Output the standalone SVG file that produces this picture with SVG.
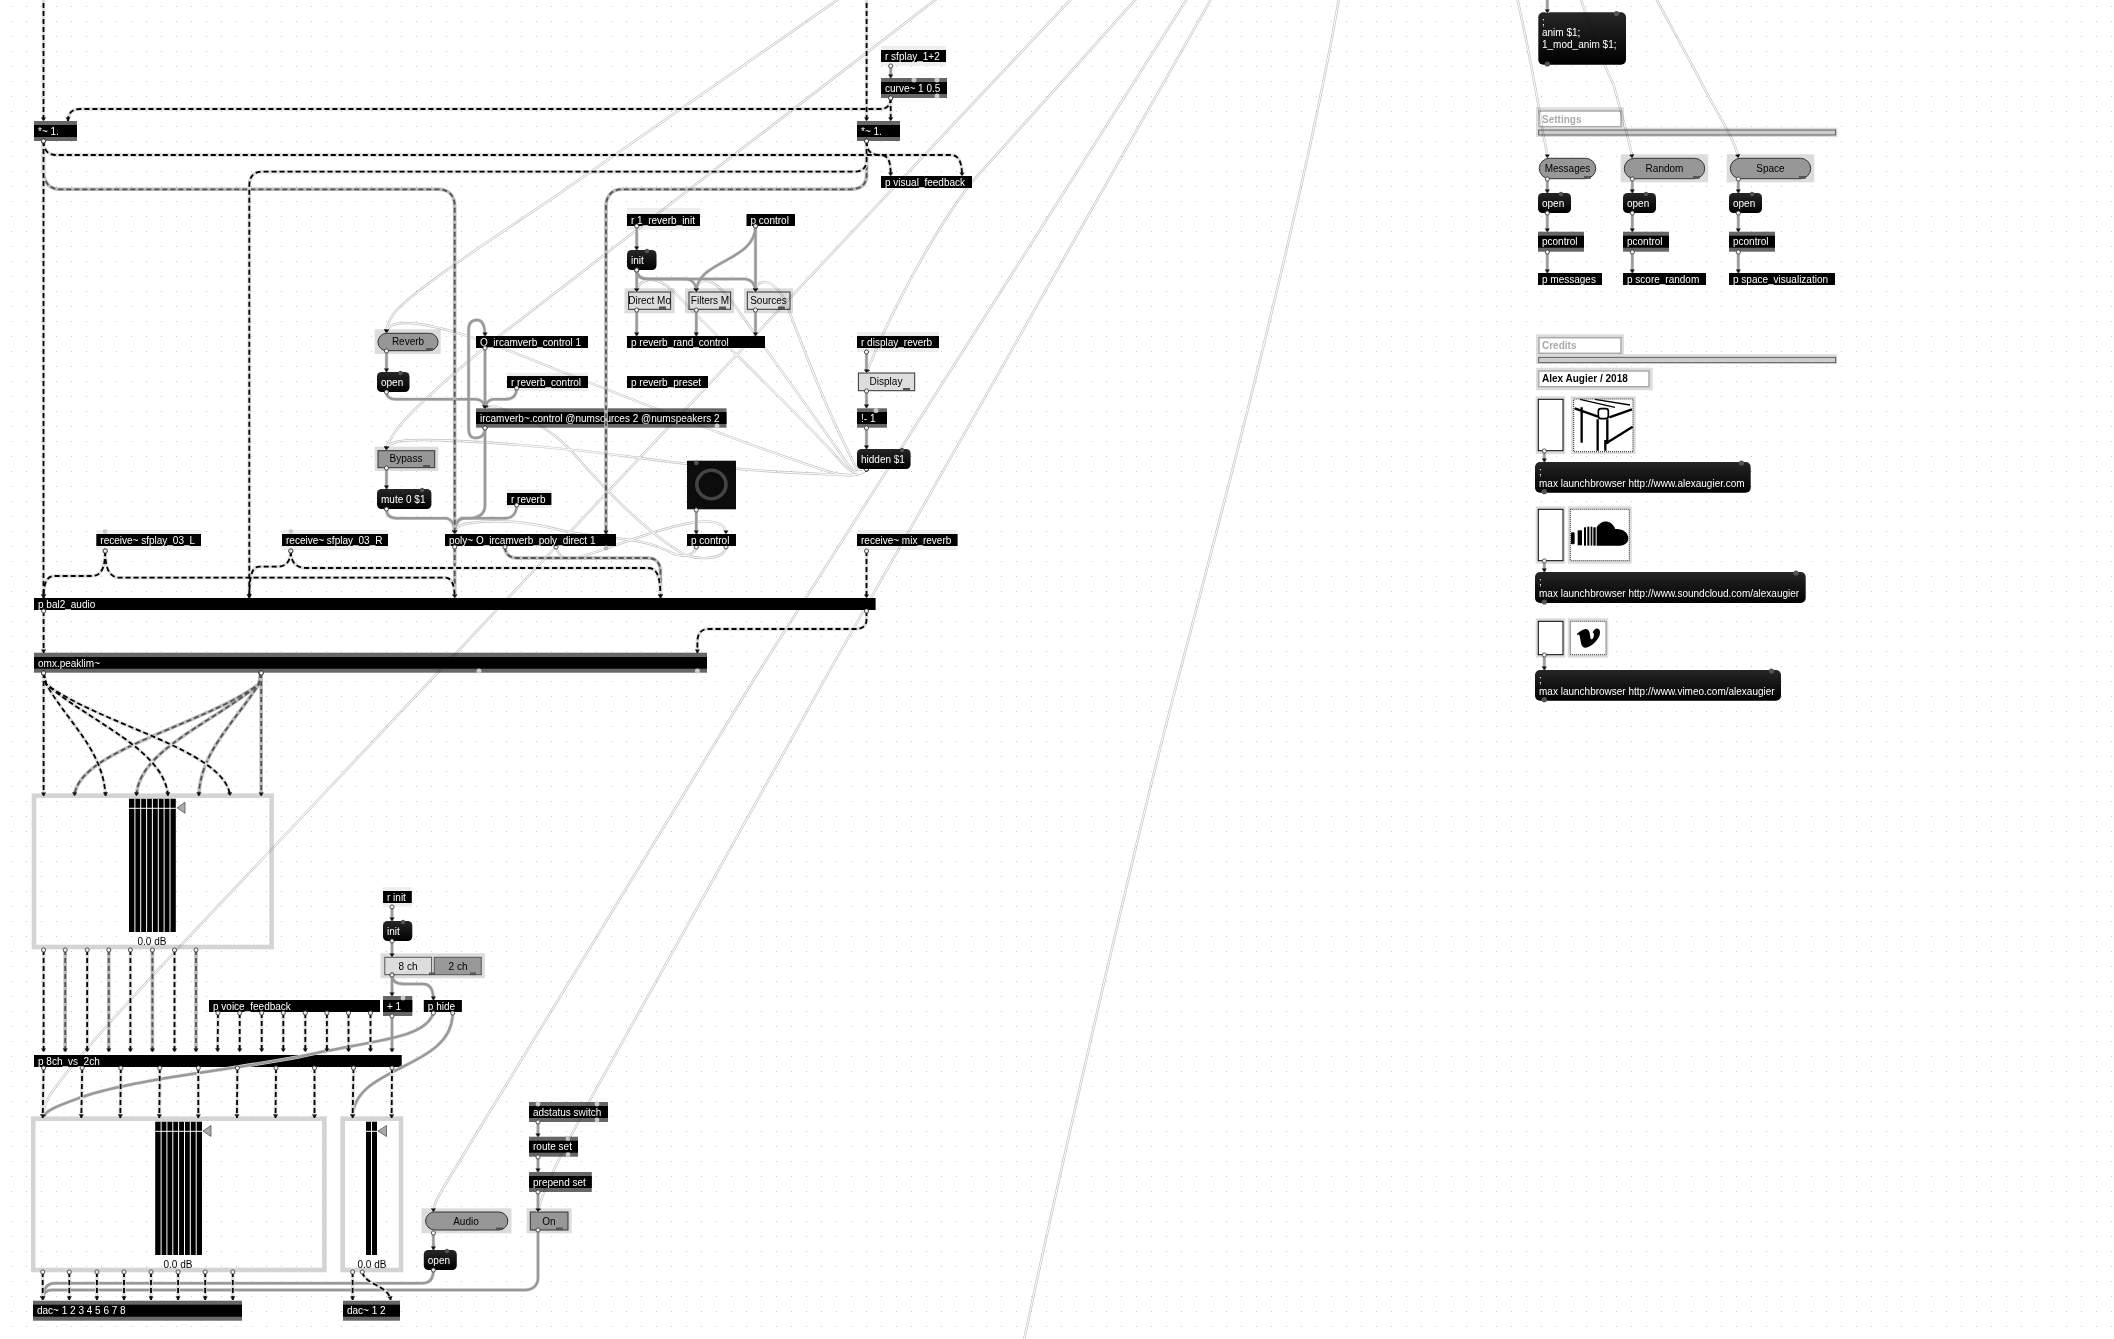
<svg xmlns="http://www.w3.org/2000/svg" width="2114" height="1339" viewBox="0 0 2114 1339">
<style>
text{font-family:"Liberation Sans",Arial,sans-serif;font-size:10px}
.w{fill:#fff}.b{fill:#000}.c{text-anchor:middle}.s{font-weight:bold}.h{fill:#aaa;font-weight:bold}
.k{fill:#000}.g{fill:#666}.l{fill:#eee}.m{fill:url(#mg)}
.o{fill:#dcdcdc}.d{fill:#979797;stroke:#333;stroke-width:1}.e{fill:#ddd;stroke:#333;stroke-width:1}
.f{fill:none;stroke:#d4d4d4;stroke-width:4.6}.pl{fill:#ccc}.pd{fill:#555}
.hf{fill:#fff;stroke:#aaa;stroke-width:1.5}
.t{fill:#fff;stroke:#000;stroke-width:1}
.dot{fill:none;stroke:#222;stroke-width:1;stroke-dasharray:1 1}
.wl{stroke:#fff;stroke-width:1;fill:none}
.tr{fill:#aaa;stroke:#555;stroke-width:.8}
#connectors path,#connectors use{fill:none}
.ms{marker-start:url(#ps);marker-end:url(#pa)}
.mult{mix-blend-mode:multiply}
</style>
<defs>
<pattern id="grid" x="11" y="6" width="15" height="15" patternUnits="userSpaceOnUse"><rect width="1" height="1" fill="#c8c8c8"/></pattern>
<linearGradient id="mg" x1="0" y1="0" x2="0" y2="1"><stop offset="0" stop-color="#262626"/><stop offset="1" stop-color="#000"/></linearGradient>
<marker id="pa" markerUnits="userSpaceOnUse" markerWidth="8" markerHeight="8" viewBox="-6 -4 8 8" refX="0" refY="0" orient="auto"><path d="M-3.6-2.6 0 0-3.6 2.6Z" fill="#111"/></marker>
<marker id="ps" markerUnits="userSpaceOnUse" markerWidth="8" markerHeight="8" viewBox="-4 -4 8 8" refX="0" refY="0"><circle r="2.1" fill="#eee" stroke="#333" stroke-width=".8"/></marker>
</defs>
<rect width="2114" height="1339" fill="#fff"/>
<rect width="2114" height="1339" fill="url(#grid)"/>

<g id="mul-l"><rect class="g" x="34" y="121" width="43" height="20"/><rect class="k" x="34" y="125" width="43" height="12"/><text class="w" x="38" y="134.5">*~ 1.</text></g>
<g id="mul-r"><rect class="g" x="857" y="121" width="43" height="20"/><rect class="k" x="857" y="125" width="43" height="12"/><text class="w" x="861" y="134.5">*~ 1.</text></g>
<g id="r-sfplay"><rect class="l" x="881" y="46" width="65" height="20"/><rect class="k" x="881" y="50" width="65" height="12"/><text class="w" x="885" y="59.5">r sfplay_1+2</text></g>
<g id="curve"><rect class="g" x="881" y="78" width="66" height="20"/><rect class="k" x="881" y="82" width="66" height="12"/><text class="w" x="885" y="91.5">curve~ 1 0.5</text><circle class="pl" cx="914" cy="80" r="2.5"/><circle class="pl" cx="937" cy="80" r="2.5"/><circle class="pl" cx="937" cy="96" r="2.5"/></g>
<g id="visual"><rect class="k" x="881" y="176" width="91" height="12"/><text class="w" x="885" y="185.5">p visual_feedback</text></g>
<g id="r-init-rev"><rect class="l" x="627" y="208" width="73" height="22"/><rect class="k" x="627" y="214" width="73" height="12"/><text class="w" x="631" y="223.5">r 1_reverb_init</text></g>
<g id="p-control-top"><rect class="k" x="746.5" y="214" width="48.5" height="12"/><text class="w" x="750.5" y="223.5">p control</text></g>
<g id="init-rev"><rect class="m" x="627" y="250" width="29.5" height="20" rx="4.5"/><text class="w" x="631" y="263.5">init</text><circle class="pd" cx="647" cy="251" r="2.2"/></g>
<g id="direct"><rect class="o" x="624.5" y="288.3" width="50.2" height="25"/><rect class="e" x="628.6" y="292" width="42" height="17.3"/><text class="b c" x="649.6" y="304">Direct Mo</text><rect class="pd" x="659" y="306.5" width="7" height="2.6"/></g>
<g id="filters"><rect class="o" x="685" y="288.3" width="49" height="25"/><rect class="e" x="689" y="292" width="41.6" height="17.3"/><text class="b c" x="710" y="304">Filters M</text><rect class="pd" x="719" y="306.5" width="7" height="2.6"/></g>
<g id="sources"><rect class="o" x="744" y="288.3" width="49" height="25"/><rect class="e" x="747.3" y="292" width="42.7" height="17.3"/><text class="b c" x="768.5" y="304">Sources</text><rect class="pd" x="778" y="306.5" width="7" height="2.6"/></g>
<g id="rand"><rect class="k" x="627" y="336" width="138" height="12"/><text class="w" x="631" y="345.5">p reverb_rand_control</text></g>
<g id="ctl1"><rect class="k" x="476" y="336" width="112" height="12"/><text class="w" x="480" y="345.5">O_ircamverb_control 1</text></g>
<g id="reverb"><rect class="o" x="374.7" y="329.3" width="66" height="24.7"/><rect class="d" x="378" y="333.3" width="60" height="17.4" rx="8.7"/><text class="b c" x="408" y="345">Reverb</text><rect class="pd" x="426" y="348" width="7" height="2.6"/></g>
<g id="open-rev"><rect class="m" x="377" y="372" width="32.5" height="20" rx="4.5"/><text class="w" x="381" y="385.5">open</text><circle class="pd" cx="400.5" cy="373" r="2.2"/></g>
<g id="r-rev-ctl"><rect class="l" x="507" y="372.7" width="81" height="18.5"/><rect class="k" x="507" y="376" width="81" height="12"/><text class="w" x="511" y="385.5">r reverb_control</text></g>
<g id="preset"><rect class="k" x="627" y="376" width="81" height="12"/><text class="w" x="631" y="385.5">p reverb_preset</text></g>
<g id="r-display"><rect class="l" x="857" y="332" width="82" height="20"/><rect class="k" x="857" y="336" width="82" height="12"/><text class="w" x="861" y="345.5">r display_reverb</text></g>
<g id="display"><rect class="e" x="858.4" y="373" width="56.3" height="17.7"/><text class="b c" x="886" y="385">Display</text><rect class="pd" x="903" y="388" width="7" height="2.6"/></g>
<g id="ircam"><rect class="g" x="476" y="408.3" width="250.5" height="19.4"/><rect class="k" x="476" y="412" width="250.5" height="12"/><text class="w" x="480" y="421.5">ircamverb~.control @numsources 2 @numspeakers 2</text><circle class="pl" cx="717" cy="426" r="2.5"/></g>
<g id="not1"><rect class="g" x="857" y="408.3" width="30" height="19.4"/><rect class="k" x="857" y="412" width="30" height="12"/><text class="w" x="861" y="421.5">!- 1</text><circle class="pl" cx="876" cy="410.5" r="2.5"/></g>
<g id="hidden"><rect class="m" x="857" y="449" width="53.6" height="20" rx="4.5"/><text class="w" x="861" y="462.5">hidden $1</text><circle class="pd" cx="902" cy="450" r="2.2"/></g>
<g id="bypass"><rect class="o" x="374.7" y="446.7" width="63.7" height="24.3"/><rect class="d" x="378" y="450.7" width="56.7" height="17"/><text class="b c" x="406" y="462">Bypass</text><rect class="pd" x="423" y="465" width="7" height="2.6"/></g>
<g id="mute"><rect class="m" x="377" y="489" width="54.4" height="20" rx="4.5"/><text class="w" x="381" y="502.5">mute 0 $1</text><circle class="pd" cx="422" cy="490" r="2.2"/></g>
<g id="r-reverb"><rect class="l" x="507" y="489.7" width="44.4" height="18.3"/><rect class="k" x="507" y="493" width="44.4" height="12"/><text class="w" x="511" y="502.5">r reverb</text></g>
<g id="toggle"><rect x="687" y="460.7" width="49" height="48.6" fill="#0c0c0c"/><ellipse cx="711.4" cy="484.5" rx="14.6" ry="14.2" fill="none" stroke="#444" stroke-width="3.6"/><circle class="pd" cx="696.3" cy="463" r="2.4"/></g>
<g id="poly"><rect class="k" x="445" y="534" width="171" height="12"/><text class="w" x="449" y="543.5">poly~ O_ircamverb_poly_direct 1</text><circle class="pl" cx="606" cy="548" r="2.4"/></g>
<g id="p-control"><rect class="k" x="687" y="534" width="49" height="12"/><text class="w" x="691" y="543.5">p control</text></g>
<g id="r-mix"><rect class="l" x="857" y="530" width="100.6" height="20"/><rect class="k" x="857" y="534" width="100.6" height="12"/><text class="w" x="861" y="543.5">receive~ mix_reverb</text></g>
<g id="r-sf-r"><rect class="l" x="282" y="530" width="106" height="20"/><rect class="k" x="282" y="534" width="106" height="12"/><text class="w" x="286" y="543.5">receive~ sfplay_03_R</text><circle class="pl" cx="291" cy="531.5" r="2.4"/></g>
<g id="r-sf-l"><rect class="l" x="96.3" y="530" width="104.7" height="20"/><rect class="k" x="96.3" y="534" width="104.7" height="12"/><text class="w" x="100.3" y="543.5">receive~ sfplay_03_L</text><circle class="pl" cx="105" cy="531.5" r="2.4"/></g>
<g id="bal2"><rect class="k" x="34" y="598" width="841.6" height="12"/><text class="w" x="38" y="607.5">p bal2_audio</text></g>
<g id="omx"><rect class="g" x="34" y="652.7" width="673" height="20"/><rect class="k" x="34" y="657" width="673" height="11.7"/><text class="w" x="38" y="666.5">omx.peaklim~</text><circle class="pl" cx="479" cy="671" r="2.5"/><circle class="pl" cx="697.4" cy="671" r="2.5"/></g>
<g id="gain8a"><rect class="f" x="34" y="795.7" width="237.6" height="151.3"/><rect class="k" x="129" y="798.7" width="46.8" height="133.3"/><path class="wl" d="M134.9 798.7V932M140.7 798.7V932M146.6 798.7V932M152.4 798.7V932M158.3 798.7V932M164.1 798.7V932M170 798.7V932M129 808.3H175.8"/><path class="tr" d="M177 807.8 185 802.3V813.3Z"/><text class="b c" x="152" y="945">0.0 dB</text></g>
<g id="r-init"><rect class="l" x="383" y="887" width="28.8" height="19.7"/><rect class="k" x="383" y="891" width="28.8" height="12"/><text class="w" x="387" y="900.5">r init</text></g>
<g id="init"><rect class="m" x="383" y="921" width="29.3" height="20" rx="4.5"/><text class="w" x="387" y="934.5">init</text><circle class="pd" cx="403" cy="922" r="2.2"/></g>
<g id="tab"><rect class="o" x="380.6" y="953.3" width="104.2" height="25"/><rect x="384.8" y="957.3" width="46.8" height="17.4" fill="#ddd" stroke="#555"/><rect x="434.3" y="957.3" width="46.9" height="17.4" fill="#999" stroke="#555"/><text class="b c" x="408" y="969.5">8 ch</text><text class="b c" x="458" y="969.5">2 ch</text><rect class="pd" x="429" y="972.5" width="6" height="2.6"/><rect class="pd" x="470" y="972.5" width="6" height="2.6"/></g>
<g id="voice"><rect class="k" x="209" y="1000" width="171" height="12"/><text class="w" x="213" y="1009.5">p voice_feedback</text></g>
<g id="plus1"><rect class="g" x="383" y="996" width="29.3" height="20"/><rect class="k" x="383" y="1000" width="29.3" height="12"/><text class="w" x="387" y="1009.5">+ 1</text><circle class="pl" cx="403" cy="998" r="2.4"/></g>
<g id="hide"><rect class="k" x="423.8" y="1000" width="38.1" height="12"/><text class="w" x="427.8" y="1009.5">p hide</text></g>
<g id="v8"><rect class="k" x="34" y="1055" width="367.7" height="12"/><text class="w" x="38" y="1064.5">p 8ch_vs_2ch</text></g>
<g id="gain8b"><rect class="f" x="33.2" y="1118.7" width="291.2" height="151.3"/><rect class="k" x="155.2" y="1121.7" width="46.8" height="133.3"/><path class="wl" d="M161.1 1121.7V1255M166.9 1121.7V1255M172.8 1121.7V1255M178.6 1121.7V1255M184.5 1121.7V1255M190.3 1121.7V1255M196.2 1121.7V1255M155.2 1131.3H202"/><path class="tr" d="M203 1131 211 1125.5V1136.5Z"/><text class="b c" x="178" y="1268">0.0 dB</text></g>
<g id="gain2"><rect class="f" x="342.7" y="1118.7" width="58.3" height="151.3"/><rect class="k" x="366" y="1121.7" width="11" height="133.3"/><path class="wl" d="M371.5 1121.7V1255M366 1131.3H377"/><path class="tr" d="M378 1131 386.5 1125.5V1136.5Z"/><text class="b c" x="372" y="1268">0.0 dB</text></g>
<g id="dac8"><rect class="g" x="33" y="1300.7" width="209" height="20"/><rect class="k" x="33" y="1304.7" width="209" height="12"/><text class="w" x="37" y="1314.2">dac~ 1 2 3 4 5 6 7 8</text></g>
<g id="dac2"><rect class="g" x="343" y="1300.7" width="57" height="20"/><rect class="k" x="343" y="1304.7" width="57" height="12"/><text class="w" x="347" y="1314.2">dac~ 1 2</text></g>
<g id="audio"><rect class="o" x="421.5" y="1208.3" width="90" height="25"/><rect class="d" x="425.6" y="1212" width="82.2" height="18" rx="9"/><text class="b c" x="466" y="1224.5">Audio</text><rect class="pd" x="496" y="1227.5" width="7" height="2.6"/></g>
<g id="open-audio"><rect class="m" x="423.8" y="1250" width="33" height="20" rx="4.5"/><text class="w" x="427.8" y="1263.5">open</text><circle class="pd" cx="447" cy="1251" r="2.2"/></g>
<g id="on"><rect class="o" x="526.6" y="1208.3" width="45" height="25"/><rect class="d" x="530.3" y="1212" width="37.7" height="18"/><text class="b c" x="549" y="1224.5">On</text><rect class="pd" x="556" y="1227.5" width="7" height="2.6"/></g>
<g id="adstatus"><rect class="g" x="529" y="1102" width="79" height="20"/><rect class="k" x="529" y="1106" width="79" height="12"/><text class="w" x="533" y="1115.5">adstatus switch</text><circle class="pl" cx="538" cy="1104" r="2.4"/><circle class="pl" cx="597" cy="1104" r="2.4"/><circle class="pl" cx="597" cy="1120" r="2.4"/></g>
<g id="route"><rect class="g" x="529" y="1136.7" width="49" height="20"/><rect class="k" x="529" y="1140.7" width="49" height="12"/><text class="w" x="533" y="1150.2">route set</text><circle class="pl" cx="568" cy="1138.7" r="2.4"/><circle class="pl" cx="568" cy="1154.7" r="2.4"/></g>
<g id="prepend"><rect class="g" x="529" y="1172" width="62.8" height="20"/><rect class="k" x="529" y="1176" width="62.8" height="12"/><text class="w" x="533" y="1185.5">prepend set</text></g>

<g id="anim"><rect class="m" x="1538.3" y="12.3" width="87.7" height="52.4" rx="5"/><text class="w" x="1542" y="25">;</text><text class="w" x="1542" y="36.3">anim $1;</text><text class="w" x="1542" y="47.6">1_mod_anim $1;</text><circle class="pd" cx="1616.5" cy="13.5" r="2.6"/><circle class="pd" cx="1547.3" cy="64" r="2.6"/></g>
<g id="settings"><rect class="o" x="1536" y="107.3" width="88" height="21"/><rect class="hf" x="1539" y="111" width="82" height="15.7"/><text class="h" x="1542" y="122.5">Settings</text></g>
<g id="panel1"><rect class="o" x="1536" y="127.7" width="301.3" height="9.3"/><rect x="1538.7" y="130" width="297" height="5" fill="#ccc" stroke="#444" stroke-width=".8"/></g>
<g id="messages-b"><rect class="d" x="1539.3" y="158.3" width="56.4" height="20.4" rx="10.2"/><text class="b c" x="1567.5" y="172">Messages</text><rect class="pd" x="1584" y="176" width="7" height="2.6"/></g>
<g id="random-b"><rect class="o" x="1620.7" y="154.3" width="87.6" height="28"/><rect class="d" x="1624.3" y="158.3" width="80.4" height="20.4" rx="10.2"/><text class="b c" x="1664.5" y="172">Random</text><rect class="pd" x="1693" y="176" width="7" height="2.6"/></g>
<g id="space-b"><rect class="o" x="1726.7" y="154.3" width="87.6" height="28"/><rect class="d" x="1730.3" y="158.3" width="80.4" height="20.4" rx="10.2"/><text class="b c" x="1770.5" y="172">Space</text><rect class="pd" x="1799" y="176" width="7" height="2.6"/></g>
<g id="open1"><rect class="m" x="1538" y="193" width="33" height="20" rx="4.5"/><text class="w" x="1542" y="206.5">open</text><circle class="pd" cx="1561" cy="194" r="2.2"/></g>
<g id="open2"><rect class="m" x="1623" y="193" width="33" height="20" rx="4.5"/><text class="w" x="1627" y="206.5">open</text><circle class="pd" cx="1646" cy="194" r="2.2"/></g>
<g id="open3"><rect class="m" x="1729" y="193" width="33" height="20" rx="4.5"/><text class="w" x="1733" y="206.5">open</text><circle class="pd" cx="1752" cy="194" r="2.2"/></g>
<g id="pc1"><rect class="g" x="1538" y="231.7" width="46" height="20"/><rect class="k" x="1538" y="235.7" width="46" height="12"/><text class="w" x="1542" y="245.2">pcontrol</text></g>
<g id="pc2"><rect class="g" x="1623" y="231.7" width="46" height="20"/><rect class="k" x="1623" y="235.7" width="46" height="12"/><text class="w" x="1627" y="245.2">pcontrol</text></g>
<g id="pc3"><rect class="g" x="1729" y="231.7" width="46" height="20"/><rect class="k" x="1729" y="235.7" width="46" height="12"/><text class="w" x="1733" y="245.2">pcontrol</text></g>
<g id="p-messages"><rect class="k" x="1538" y="273" width="64" height="12"/><text class="w" x="1542" y="282.5">p messages</text></g>
<g id="p-score"><rect class="k" x="1623" y="273" width="83" height="12"/><text class="w" x="1627" y="282.5">p score_random</text></g>
<g id="p-space"><rect class="k" x="1729" y="273" width="106" height="12"/><text class="w" x="1733" y="282.5">p space_visualization</text></g>

<g id="credits"><rect class="o" x="1536" y="334.3" width="88" height="20.7"/><rect class="hf" x="1539" y="337.7" width="82" height="15.6"/><text class="h" x="1542" y="349">Credits</text></g>
<g id="panel2"><rect class="o" x="1536" y="354.3" width="301.3" height="9.7"/><rect x="1538.7" y="357.3" width="297" height="5.4" fill="#ccc" stroke="#444" stroke-width=".8"/></g>
<g id="author"><rect class="o" x="1536" y="367.7" width="116.7" height="22.6"/><rect class="hf" x="1538.7" y="371" width="110.3" height="15.7"/><text class="b s" x="1542" y="382.3">Alex Augier / 2018</text></g>
<g id="btn1"><rect class="o" x="1535.7" y="396.3" width="29.6" height="57.7"/><rect class="t" x="1538.3" y="399.3" width="24.7" height="51.4"/></g>
<g id="img1"><rect class="o" x="1571" y="396.3" width="64.7" height="57.7"/><rect x="1573.7" y="399" width="59.3" height="52.7" fill="#fff"/><g transform="translate(1500 320) scale(.3333)" fill="none" stroke="#000"><path stroke-width="4" d="M240 238 345 262M285 238 390 255"/><path stroke-width="7" d="M224 265 294 290M328 292 396 268M245 262V368M293 298V392M322 298V372M315 372 398 320M316 360V392"/><rect x="295" y="266" width="30" height="30" rx="8" stroke-width="5"/></g><rect class="dot" x="1573.7" y="399" width="59.3" height="52.7"/></g>
<g id="msg1"><rect class="m" x="1535" y="462" width="215.7" height="30.7" rx="5"/><text class="w" x="1539" y="475">;</text><text class="w" x="1539" y="486.5">max launchbrowser http://www.alexaugier.com</text><circle class="pd" cx="1741.5" cy="463" r="2.6"/><circle class="pd" cx="1544.3" cy="491.7" r="2.6"/></g>
<g id="btn2"><rect class="o" x="1535.7" y="506.3" width="29.6" height="57.4"/><rect class="t" x="1538.3" y="509.3" width="24.7" height="51.4"/></g>
<g id="img2"><rect class="o" x="1567.7" y="506.3" width="64" height="57.4"/><rect x="1570.3" y="509.3" width="59" height="51.4" fill="#fff"/><g transform="translate(1500 320) scale(.3333)" fill="#000"><rect x="213" y="637" width="11" height="36" rx="4"/><rect x="233" y="631" width="13" height="45"/><rect x="252" y="622" width="6" height="55"/><rect x="262" y="620" width="6" height="57"/><rect x="272" y="620" width="5" height="57"/><rect x="280" y="622" width="7" height="55"/><path d="M290 677V622C305 597 335 600 346 627C368 625 385 638 385 655C385 670 372 677 360 677Z"/></g><rect class="dot" x="1570.3" y="509.3" width="59" height="51.4"/></g>
<g id="msg2"><rect class="m" x="1535" y="572" width="270.7" height="31" rx="5"/><text class="w" x="1539" y="585">;</text><text class="w" x="1539" y="596.5">max launchbrowser http://www.soundcloud.com/alexaugier</text><circle class="pd" cx="1796" cy="573" r="2.6"/><circle class="pd" cx="1544.3" cy="602" r="2.6"/></g>
<g id="btn3"><rect class="o" x="1535.7" y="618.3" width="29.6" height="39.4"/><rect class="t" x="1538.3" y="621.3" width="24.7" height="33.4"/></g>
<g id="img3"><rect class="o" x="1567.7" y="618.3" width="40.6" height="39.4"/><rect x="1570.3" y="621.3" width="35.7" height="33.4" fill="#fff"/><path transform="translate(1500 320) scale(.3333)" fill="#000" d="M231 942C245 928 262 920 268 935C272 950 270 958 275 958C280 958 286 942 278 937C285 920 302 922 300 940C298 960 270 985 255 983C240 982 243 955 238 945C236 942 234 945 232 946Z"/><rect class="dot" x="1570.3" y="621.3" width="35.7" height="33.4"/></g>
<g id="msg3"><rect class="m" x="1535" y="670" width="246" height="30.7" rx="5"/><text class="w" x="1539" y="683">;</text><text class="w" x="1539" y="694.5">max launchbrowser http://www.vimeo.com/alexaugier</text><circle class="pd" cx="1771.5" cy="671" r="2.6"/><circle class="pd" cx="1544.3" cy="699.7" r="2.6"/></g>

<g id="connectors">
<g class="mult">
<use href="#thin" stroke="#c2c2c2" stroke-width="2.4"/>
<g stroke="#fbfbfb" stroke-width="1.1" class="ms"><g id="thin">
<path d="M866 -20 L564.5 190C500 234 420 285 395 312C389 320 386.5 326 386.5 333"/>
<path d="M961 -20 L503 333C450 375 400 420 392 437C388 443 386.5 446 386.5 450"/>
<path d="M1089 -20 L271 850C200 925 80 1050 50 1095C46 1102 42.7 1110 42.7 1118"/>
<path d="M1153 -20 L972 182C930 235 885 325 866.5 373"/>
<path d="M1199 -20 L753.6 680L445 1185C438 1197 433.4 1205 433.4 1212"/>
<path d="M1222 -20 L830 670 590 1100C555 1165 541 1195 538 1212"/>
<path d="M1342 -20 C1310 180 1220 520 1177.7 680S1060 1170 1020 1359"/>
<path d="M1513 -20 C1525 30 1538 100 1543 133C1545 145 1547.3 150 1547.3 158"/>
<path d="M1574 -20 C1590 25 1605 70 1613 83C1622 115 1628 135 1632.3 158"/>
<path d="M1646 -20 C1670 25 1690 60 1706.7 93C1720 118 1735 140 1738.3 158"/>
<path d="M866.5 469C860 478 845 476 830 472C760 450 620 395 520 355C470 335 425 322 405 323C393 323 386.5 327 386.5 333"/>
<path d="M866.5 469C860 478 845 475 800 473C740 470 690 465 640 458C560 447 470 440 420 440C400 440 386.5 442 386.5 450"/>
<path d="M866.5 469C855 478 848 470 835 455C790 405 720 340 675 293C665 283 655 279 648 280C640 282 636.7 286 636.7 292"/>
<path d="M866.5 469C855 478 848 465 838 450C810 410 770 355 745 320C730 298 718 283 708 281C701 280 696.3 284 696.3 292"/>
<path d="M866.5 469C858 478 855 465 845 445C825 405 800 340 785 300C778 288 770 281 763 282C758 283 755.5 287 755.5 292"/>
<path d="M696.3 547C695 556 682 558 672 553C640 535 600 540 560 530C520 520 490 520 470 523C460 524 455 528 454.7 534"/>
<path d="M556 547C558 556 565 560 575 558C600 553 650 530 690 523C705 520 726 520 726 534"/>
<path d="M726 547C724 560 700 560 685 555C650 535 610 495 575 455C555 432 530 418 505 410C495 406 487 404 485 409"/>
</g></g>
</g>

<use href="#thick" stroke="#dcdcdc" stroke-width="3.6"/>
<g stroke="#999" stroke-width="2.4" class="ms"><g id="thick">
<path d="M890.7 66V78"/>
<path d="M386.5 351V372"/><path d="M386.5 468V489"/>
<path d="M485 348V409"/>
<path d="M485 428C485 436 480 438 475 438C470 438 468.6 434 468.6 428V330C468.6 323 472 320 477 320C482 320 485 325 485 336"/>
<path d="M386.5 392C386.5 396 389 399.3 396 399.3H475C481 399.3 485 403 485 409"/>
<path d="M516.7 388C516.7 396 512 399.3 505 399.3H494C489 399.3 485 403 485 409"/>
<path d="M485 428V505C485 515 478 518.3 468 518.3H463C458 518.3 454.7 524 454.7 534"/>
<path d="M386.5 509C386.5 515 390 518.3 397 518.3H445C451 518.3 454.7 524 454.7 534"/>
<path d="M516.7 505C516.7 514 512 518.3 505 518.3H465C458 518.3 454.7 524 454.7 534"/>
<path d="M636.7 226V250"/><path d="M636.7 270V292"/>
<path d="M636.7 270C636.7 276 640 279 648 279H685C692 279 696.3 284 696.3 292"/>
<path d="M636.7 270C636.7 276 640 279 648 279H744C751 279 755.5 284 755.5 292"/>
<path d="M755.5 226V292"/>
<path d="M755.5 226C755.5 262 696.3 260 696.3 292"/>
<path d="M636.7 310V336"/><path d="M696.3 310V336"/><path d="M755.5 310V336"/>
<path d="M866.5 352V373"/><path d="M866.5 391V408"/><path d="M866.5 428V449"/>
<path d="M696.3 510V534"/>
<path d="M392 907V921"/><path d="M392 941V957"/><path d="M392 975V996"/>
<path d="M392 975C392 981 396 984 404 984H423C430 984 433.4 990 433.4 1000"/>
<path d="M392 1016V1052"/>
<path d="M433.4 1013C425 1040 370 1040 298 1057C230 1070 130 1080 82 1097C60 1105 45 1110 42.7 1118"/>
<path d="M452.7 1013C452.7 1070 352.6 1065 352.6 1118"/>
<path d="M433.4 1233V1250"/>
<path d="M433.4 1270C433.4 1279 429 1283.3 422 1283.3H55C47 1283.3 42.7 1288 42.7 1300"/>
<path d="M538 1230V1278C538 1285 533 1290 525 1290H52C46 1290 42.7 1293 42.7 1300"/>
<path d="M538 1122V1137"/><path d="M538 1157V1172"/><path d="M538 1192V1212"/>
<path d="M1547.3 -5V13"/>
<path d="M1547.3 179V193"/><path d="M1547.3 213V232"/><path d="M1547.3 252V273"/>
<path d="M1632.3 179V193"/><path d="M1632.3 213V232"/><path d="M1632.3 252V273"/>
<path d="M1738.3 179V193"/><path d="M1738.3 213V232"/><path d="M1738.3 252V273"/>
<path d="M1544.3 451V462"/><path d="M1544.3 561V572"/><path d="M1544.3 655V670"/>
</g></g>

<use href="#grayd" stroke="#bbb" stroke-width="3.6"/>
<g stroke="#555" stroke-width="1.8" stroke-dasharray="5 3" class="ms"><g id="grayd">
<path d="M43.5 141V170C43.5 183 50 189.3 60 189.3H438C449 189.3 454.7 196 454.7 206V534"/>
<path d="M866.6 141V175C866.6 185 860 189.3 850 189.3H622C612 189.3 606 196 606 206V534"/>
<path d="M505 547C505 554 510 558 517 558H648C656 558 660.5 563 660.5 572V598"/>
<path d="M454.7 547V598"/>
<path d="M261 673L259 684C205 725 78 750 74.4 796"/>
<path d="M261 673L259 684C215 722 138 750 136.4 796"/>
<path d="M261 673L259 684C235 722 200 752 198.8 796"/>
<path d="M261.2 673V796"/>
<path d="M65.2 950V1052"/><path d="M108.8 950V1052"/><path d="M152.4 950V1052"/><path d="M196 950V1052"/>
</g></g>

<use href="#blackd" stroke="#ddd" stroke-width="3.4"/>
<g stroke="#000" stroke-width="1.8" stroke-dasharray="5 3" class="ms"><g id="blackd">
<path d="M43.5 -5V121"/><path d="M866.6 -5V121"/>
<path d="M43.5 141V598"/>
<path d="M890.7 98V121"/>
<path d="M890.7 98C890.7 104 888 109 880 109H80C72 109 68 113 68 121"/>
<path d="M866.6 141V160C866.6 168 862 171.7 854 171.7H262C254 171.7 249.3 176 249.3 186V598"/>
<path d="M43.5 141C43.5 150 48 155 56 155H880C888 155 890.7 160 890.7 176"/>
<path d="M866.6 141C866.6 150 870 155 880 155H950C958 155 962 160 962 176"/>
<path d="M105.2 551C105.2 570 100 576 92 576H55C47 576 43.6 582 43.6 598"/>
<path d="M105.2 551C105.2 570 110 577.7 120 577.7H445C451 577.7 454.7 583 454.7 598"/>
<path d="M290.8 551C290.8 562 285 566.6 278 566.6H260C253 566.6 249.3 572 249.3 598"/>
<path d="M290.8 551C290.8 562 296 568 306 568H648C656 568 660.5 574 660.5 598"/>
<path d="M866.5 551V598"/>
<path d="M43.6 611V653"/>
<path d="M866.5 611V620C866.5 626 862 629 856 629H708C701 629 697.4 634 697.4 642V653"/>
<path d="M43.6 673V796"/>
<path d="M43.6 673L46 684C70 725 103 750 105.6 796"/>
<path d="M43.6 673L46 684C90 722 165 750 168 796"/>
<path d="M43.6 673L46 684C100 725 226 750 230 796"/>
<path d="M43.6 950V1052"/><path d="M87.2 950V1052"/><path d="M130.4 950V1052"/><path d="M174.5 950V1052"/>
<path d="M218 1013 217.6 1052"/><path d="M239.7 1013V1052"/><path d="M261.7 1013V1052"/><path d="M283.3 1013V1052"/><path d="M305.3 1013V1052"/><path d="M326.9 1013V1052"/><path d="M348.5 1013V1052"/><path d="M370.5 1013V1052"/>
<path d="M43.6 1068 42.7 1118"/><path d="M82.2 1068 81.3 1118"/><path d="M120.8 1068 120.3 1118"/><path d="M159.8 1068 159.3 1118"/><path d="M198.3 1068V1118"/><path d="M237.4 1068 236.9 1118"/><path d="M276 1068 275.5 1118"/><path d="M314.5 1068V1118"/><path d="M353.5 1068 352.6 1118"/><path d="M392 1068 391.6 1118"/>
<path d="M42.7 1272V1300"/><path d="M69.3 1272V1300"/><path d="M96.9 1272V1300"/><path d="M124 1272V1300"/><path d="M151 1272V1300"/><path d="M178.1 1272V1300"/><path d="M205.2 1272V1300"/><path d="M232.8 1272V1300"/>
<path d="M352.6 1272V1300"/>
<path d="M362.3 1272C365 1285 388 1285 390.7 1300"/>
</g></g>
</g>
</svg>
